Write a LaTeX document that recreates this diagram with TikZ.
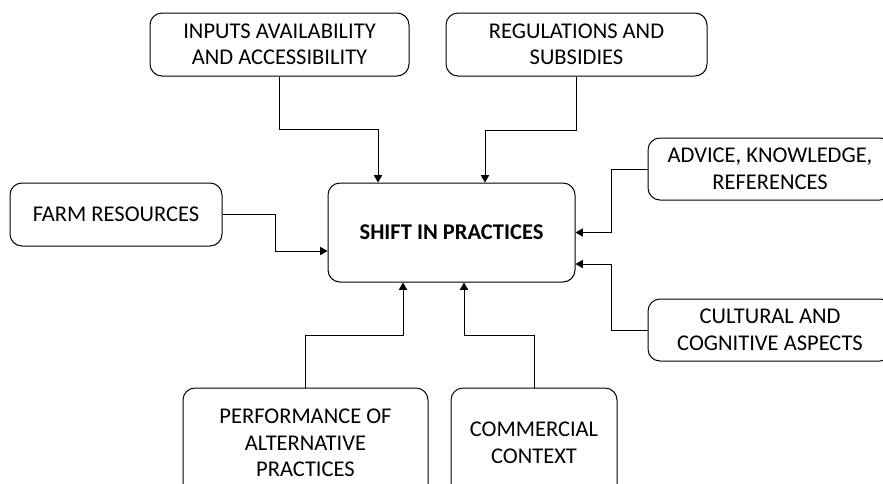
\documentclass[tikz,border=0pt]{standalone}
\usepackage{fontspec}
\setmainfont{Carlito}
\usetikzlibrary{arrows}
\tikzstyle{every picture}=[x=1pt,y=-1pt]
\tikzstyle{box}=[draw,line width=1pt,rounded corners=12pt,align=center,inner sep=0pt,font=\fontsize{22.5}{26.5}\selectfont]
\tikzstyle{conn}=[-triangle 60,line width=1pt]

\begin{document}
\begin{tikzpicture}
			\useasboundingbox (0,0) rectangle (883,483);
			\clip (0,0) rectangle (883,483);
			% Kaesten zeichnen
			\node[box,minimum width=247pt,minimum height=99pt] (shift) at (451.5,232.5) {\textbf{SHIFT IN PRACTICES}};
			\node[box,minimum width=259pt,minimum height=63pt] (inputs) at (279.5,44.5) {INPUTS AVAILABILITY\\AND ACCESSIBILITY};
			\node[box,minimum width=261pt,minimum height=63pt] (regul) at (576.5,44.5) {REGULATIONS AND\\SUBSIDIES};
			\node[box,minimum width=212pt,minimum height=63pt] (farm) at (116,214.5) {FARM RESOURCES};
			\node[box,minimum width=244pt,minimum height=62pt] (advice) at (770,169) {ADVICE, KNOWLEDGE,\\REFERENCES};
			\node[box,minimum width=244pt,minimum height=62pt] (cultur) at (770,330) {CULTURAL AND\\COGNITIVE ASPECTS};
			\node[box,minimum width=245pt,minimum height=110pt] (perf) at (305.5,443) {PERFORMANCE OF\\ALTERNATIVE\\PRACTICES};
			\node[box,minimum width=166pt,minimum height=110pt] (comm) at (534,443) {COMMERCIAL\\CONTEXT};
			% Pfeile zeichnen
			\draw[conn] (inputs.south) -- ++(0,53) -| ([xshift=-73.5pt]shift.north);
			\draw[conn] (regul.south) -- ++(0,54) -| ([xshift=33.5pt]shift.north);
			\draw[conn] (farm.east) -- ++(53,0) |- ([yshift=-18.5pt]shift.west);
			\draw[conn] (advice.west) -- ++(-36,0) |- (shift.east);
			\draw[conn] (cultur.west) -- ++(-36,0) |- ([yshift=-31.5pt]shift.east);
			\draw[conn] (perf.north) -- ++(0,-52) -| ([xshift=-48.5pt]shift.south);
			\draw[conn] (comm.north) -- ++(0,-52) -| ([xshift=12.5pt]shift.south);
		\end{tikzpicture}
\end{document}
